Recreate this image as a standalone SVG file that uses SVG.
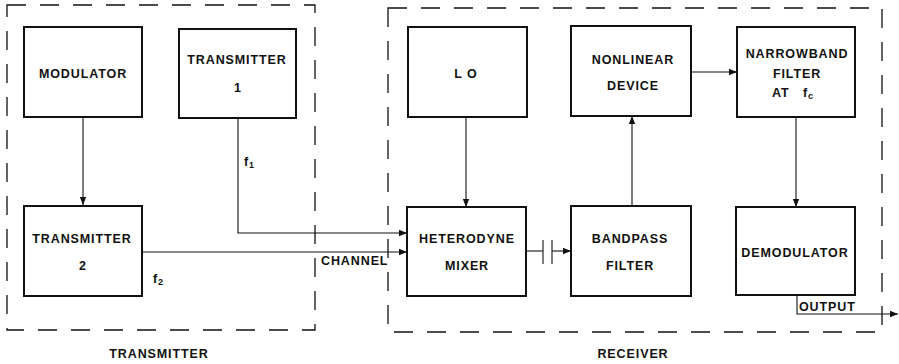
<svg xmlns="http://www.w3.org/2000/svg" width="899" height="364" viewBox="0 0 899 364">
<style>
.box{fill:#fff;stroke:#111;stroke-width:2}
.dash{fill:none;stroke:#111;stroke-width:1.3;stroke-dasharray:19 14}
.ln{fill:none;stroke:#111;stroke-width:1.1}
text{font-family:"Liberation Sans",Arial,sans-serif;font-size:12.5px;font-weight:bold;fill:#111;text-anchor:middle;letter-spacing:0.9px}
.lbl{text-anchor:start}
</style>
<defs>
<marker id="ah" viewBox="0 0 10 10" refX="10" refY="5" markerWidth="8" markerHeight="8" markerUnits="userSpaceOnUse" orient="auto">
<path d="M0,1 L10,5 L0,9 Z" fill="#111"/>
</marker>
</defs>
<rect fill="#fff" width="899" height="364"/>
<g id="transmitter-group">
<rect class="dash" x="7" y="5" width="308" height="325"/>
<text x="159" y="358">TRANSMITTER</text>
</g>
<g id="receiver-group">
<rect class="dash" x="388" y="8" width="494" height="324"/>
<text x="633" y="358">RECEIVER</text>
</g>
<g id="connectors">
<line class="ln" x1="83" y1="117" x2="83" y2="205" marker-end="url(#ah)"/>
<polyline class="ln" points="238,118 238,233 407,233" marker-end="url(#ah)"/>
<line class="ln" x1="142" y1="252" x2="407" y2="252" marker-end="url(#ah)"/>
<line class="ln" x1="466" y1="117" x2="466" y2="207" marker-end="url(#ah)"/>
<line class="ln" x1="526" y1="251" x2="543" y2="251"/>
<line class="ln" x1="543" y1="240" x2="543" y2="264" stroke-width="1.4"/>
<line class="ln" x1="552" y1="240" x2="552" y2="264" stroke-width="1.4"/>
<line class="ln" x1="552" y1="251" x2="571" y2="251" marker-end="url(#ah)"/>
<line class="ln" x1="632" y1="206" x2="632" y2="116" marker-end="url(#ah)"/>
<line class="ln" x1="691" y1="72" x2="737" y2="72" marker-end="url(#ah)"/>
<line class="ln" x1="796" y1="117" x2="796" y2="207" marker-end="url(#ah)"/>
<polyline class="ln" points="797,295 797,314 898,314" marker-end="url(#ah)"/>
<text class="lbl" x="244" y="166">f<tspan font-size="9" dy="2">1</tspan></text>
<text class="lbl" x="153" y="283">f<tspan font-size="9" dy="2">2</tspan></text>
<text class="lbl" x="321" y="265" letter-spacing="0.3">CHANNEL</text>
<text class="lbl" x="799" y="311" letter-spacing="0.3">OUTPUT</text>
</g>
<g id="modulator">
<rect class="box" x="24" y="27" width="118" height="90"/>
<text x="83" y="78">MODULATOR</text>
</g>
<g id="transmitter1">
<rect class="box" x="179" y="29" width="117" height="89"/>
<text x="237" y="64">TRANSMITTER</text>
<text x="238" y="92">1</text>
</g>
<g id="transmitter2">
<rect class="box" x="24" y="206" width="118" height="90"/>
<text x="82" y="243">TRANSMITTER</text>
<text x="83" y="270">2</text>
</g>
<g id="lo">
<rect class="box" x="408" y="27" width="119" height="90"/>
<text x="466" y="78">L O</text>
</g>
<g id="nonlinear">
<rect class="box" x="571" y="26" width="120" height="90"/>
<text x="633" y="64">NONLINEAR</text>
<text x="633" y="90">DEVICE</text>
</g>
<g id="narrowband">
<rect class="box" x="737" y="27" width="118" height="90"/>
<text x="797" y="58">NARROWBAND</text>
<text x="797" y="78">FILTER</text>
<text class="lbl" x="772" y="97">AT</text>
<text class="lbl" x="803" y="97">f<tspan font-size="9" dy="2">c</tspan></text>
</g>
<g id="heterodyne">
<rect class="box" x="407" y="207" width="119" height="89"/>
<text x="467" y="243">HETERODYNE</text>
<text x="467" y="270">MIXER</text>
</g>
<g id="bandpass">
<rect class="box" x="571" y="206" width="120" height="90"/>
<text x="630" y="243">BANDPASS</text>
<text x="630" y="270">FILTER</text>
</g>
<g id="demodulator">
<rect class="box" x="736" y="207" width="119" height="88"/>
<text x="795" y="257">DEMODULATOR</text>
</g>
</svg>
